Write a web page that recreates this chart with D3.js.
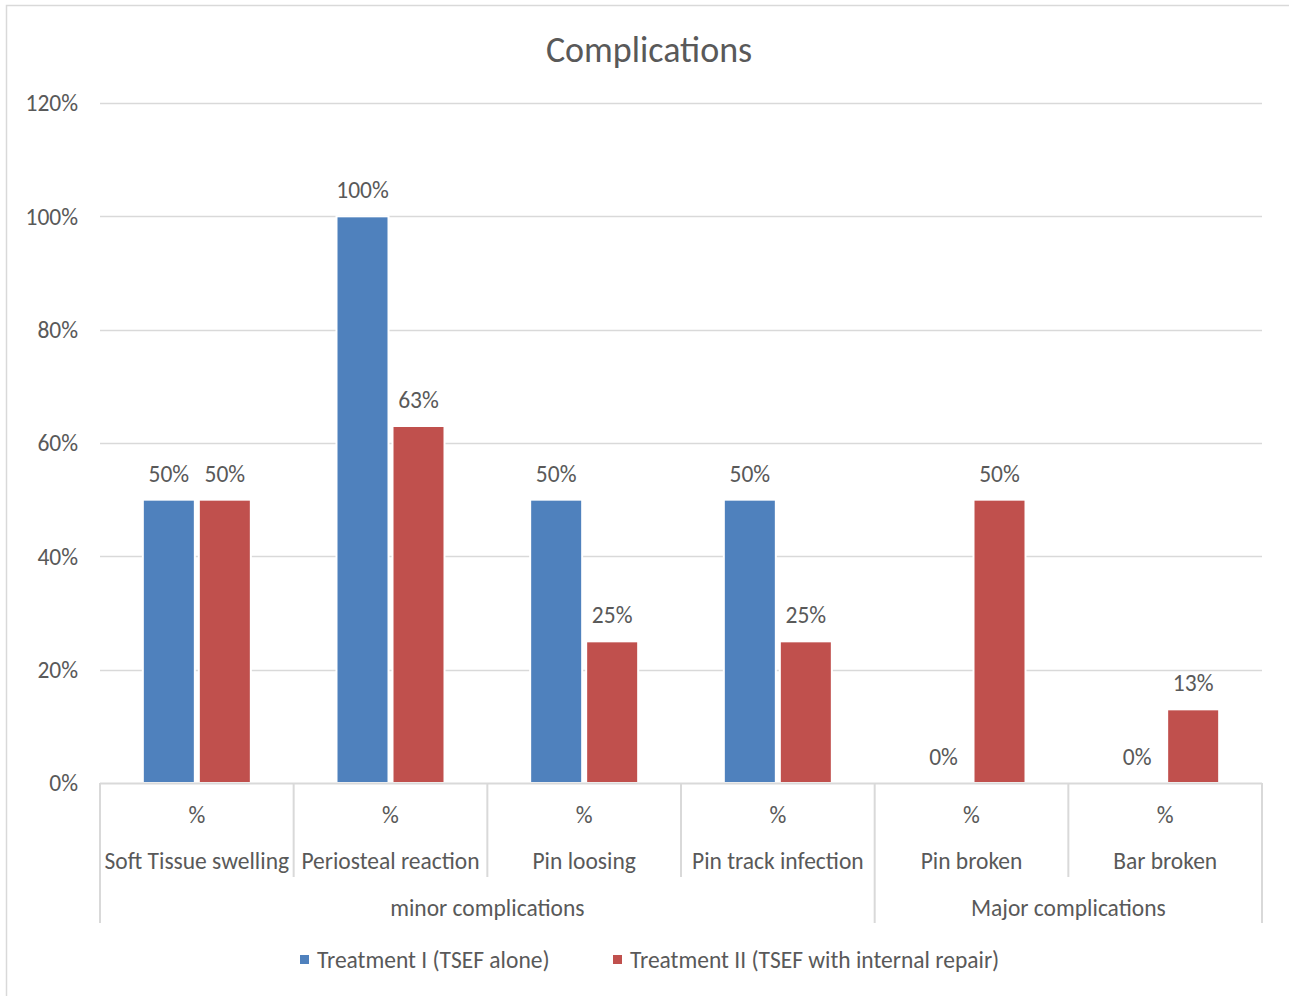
<!DOCTYPE html>
<html>
<head>
<meta charset="utf-8">
<script src="https://cdn.jsdelivr.net/npm/d3@7"></script>
<style>
  html, body { margin: 0; padding: 0; background: #fff; }
  svg { display: block; font-family: Carlito, Calibri, Lato, "Open Sans", sans-serif; }
</style>
</head>
<body>
<svg id="chart" width="1289" height="996"></svg>
<script>
// Complication rates per treatment arm
const categories = ["Soft Tissue swelling", "Periosteal reaction", "Pin loosing", "Pin track infection", "Pin broken", "Bar broken"];
const unitLabels = ["%", "%", "%", "%", "%", "%"];
const groups = [
  { name: "minor complications", count: 4 },
  { name: "Major complications", count: 2 }
];
const seriesNames = ["Treatment I (TSEF alone)", "Treatment II (TSEF with internal repair)"];
const treatment1 = [0.50, 1.00, 0.50, 0.50, 0.00, 0.00];
const treatment2 = [0.50, 0.63, 0.25, 0.25, 0.50, 0.13];
const yTicks = [0, 0.2, 0.4, 0.6, 0.8, 1.0, 1.2];

const colors = ["#4f81bd", "#c0504d"];
const textColor = "#595959";
const gridColor = "#d9d9d9";
const fs = 23.5;

const svg = d3.select("#chart");
const W = 1289, H = 996;
const plot = { left: 100, right: 1262, top: 103, bottom: 783 };

// chart border (left and top edges visible)
svg.append("rect").attr("x", 6.5).attr("y", 5.5).attr("width", W + 10).attr("height", H + 10)
  .attr("fill", "#fff").attr("stroke", gridColor).attr("stroke-width", 1.5);

const y = d3.scaleLinear().domain([0, 1.2]).range([plot.bottom, plot.top]);
const x0 = d3.scaleBand().domain(categories).range([plot.left, plot.right]).paddingInner(0).paddingOuter(0);
const bw = x0.bandwidth();
const x1 = d3.scaleBand().domain([0, 1]).range([bw / 2 - 54, bw / 2 + 54]).paddingInner(2 - 108 / 56);

// title
svg.append("text").attr("x", 649).attr("y", 62).attr("text-anchor", "middle")
  .attr("fill", textColor).attr("font-size", 36).text("Complications");

// gridlines
svg.append("g").selectAll("line").data(yTicks.filter(d => d > 0)).join("line")
  .attr("x1", plot.left).attr("x2", plot.right)
  .attr("y1", d => Math.round(y(d)) + 0.5).attr("y2", d => Math.round(y(d)) + 0.5)
  .attr("stroke", gridColor).attr("stroke-width", 1.5);

// y axis labels
const fmt = d3.format(".0%");
svg.append("g").selectAll("text").data(yTicks).join("text")
  .attr("x", 78).attr("y", d => y(d)).attr("dy", "0.35em").attr("text-anchor", "end")
  .attr("fill", textColor).attr("font-size", fs).text(d => fmt(d));

// bars with value labels
const series = [treatment1, treatment2];
const barG = svg.append("g");
series.forEach((vals, si) => {
  barG.selectAll(null).data(vals).join("rect")
    .attr("x", (d, i) => x0(categories[i]) + x1(si))
    .attr("width", x1.bandwidth())
    .attr("y", d => y(d))
    .attr("height", d => y(0) - y(d))
    .attr("fill", colors[si])
    .attr("stroke", "#fff").attr("stroke-width", 2);
  barG.selectAll(null).data(vals).join("text")
    .attr("x", (d, i) => x0(categories[i]) + x1(si) + x1.bandwidth() / 2)
    .attr("y", d => y(d) - 18)
    .attr("text-anchor", "middle").attr("fill", textColor).attr("font-size", fs)
    .text(d => fmt(d));
});

// multi-level category axis
const axisG = svg.append("g");
axisG.append("line").attr("x1", plot.left).attr("x2", plot.right)
  .attr("y1", plot.bottom + 0.5).attr("y2", plot.bottom + 0.5)
  .attr("stroke", gridColor).attr("stroke-width", 2);

const boundaries = categories.map(c => x0(c)).concat([plot.right]);
const groupEdges = [0];
groups.reduce((acc, g) => { groupEdges.push(acc + g.count); return acc + g.count; }, 0);
axisG.selectAll("line.sep").data(boundaries).join("line").attr("class", "sep")
  .attr("x1", d => d).attr("x2", d => d)
  .attr("y1", plot.bottom).attr("y2", (d, i) => groupEdges.includes(i) ? 923 : 877)
  .attr("stroke", gridColor).attr("stroke-width", 2);

axisG.selectAll("text.unit").data(categories).join("text").attr("class", "unit")
  .attr("x", d => x0(d) + bw / 2).attr("y", 815).attr("dy", "0.35em")
  .attr("text-anchor", "middle").attr("fill", textColor).attr("font-size", fs)
  .text((d, i) => unitLabels[i]);
axisG.selectAll("text.cat").data(categories).join("text").attr("class", "cat")
  .attr("x", d => x0(d) + bw / 2).attr("y", 861).attr("dy", "0.35em")
  .attr("text-anchor", "middle").attr("fill", textColor).attr("font-size", fs)
  .text(d => d);

let start = 0;
groups.forEach(g => {
  const a = x0(categories[start]);
  const b = x0(categories[start + g.count - 1]) + bw;
  axisG.append("text").attr("x", (a + b) / 2).attr("y", 908).attr("dy", "0.35em")
    .attr("text-anchor", "middle").attr("fill", textColor).attr("font-size", fs).text(g.name);
  start += g.count;
});

// legend
const legend = svg.append("g");
const legendX = [300, 613];
seriesNames.forEach((name, i) => {
  legend.append("rect").attr("x", legendX[i]).attr("y", 955).attr("width", 9).attr("height", 9).attr("fill", colors[i]);
  legend.append("text").attr("x", legendX[i] + 17).attr("y", 960).attr("dy", "0.35em")
    .attr("fill", textColor).attr("font-size", fs).text(name);
});
</script>
</body>
</html>
